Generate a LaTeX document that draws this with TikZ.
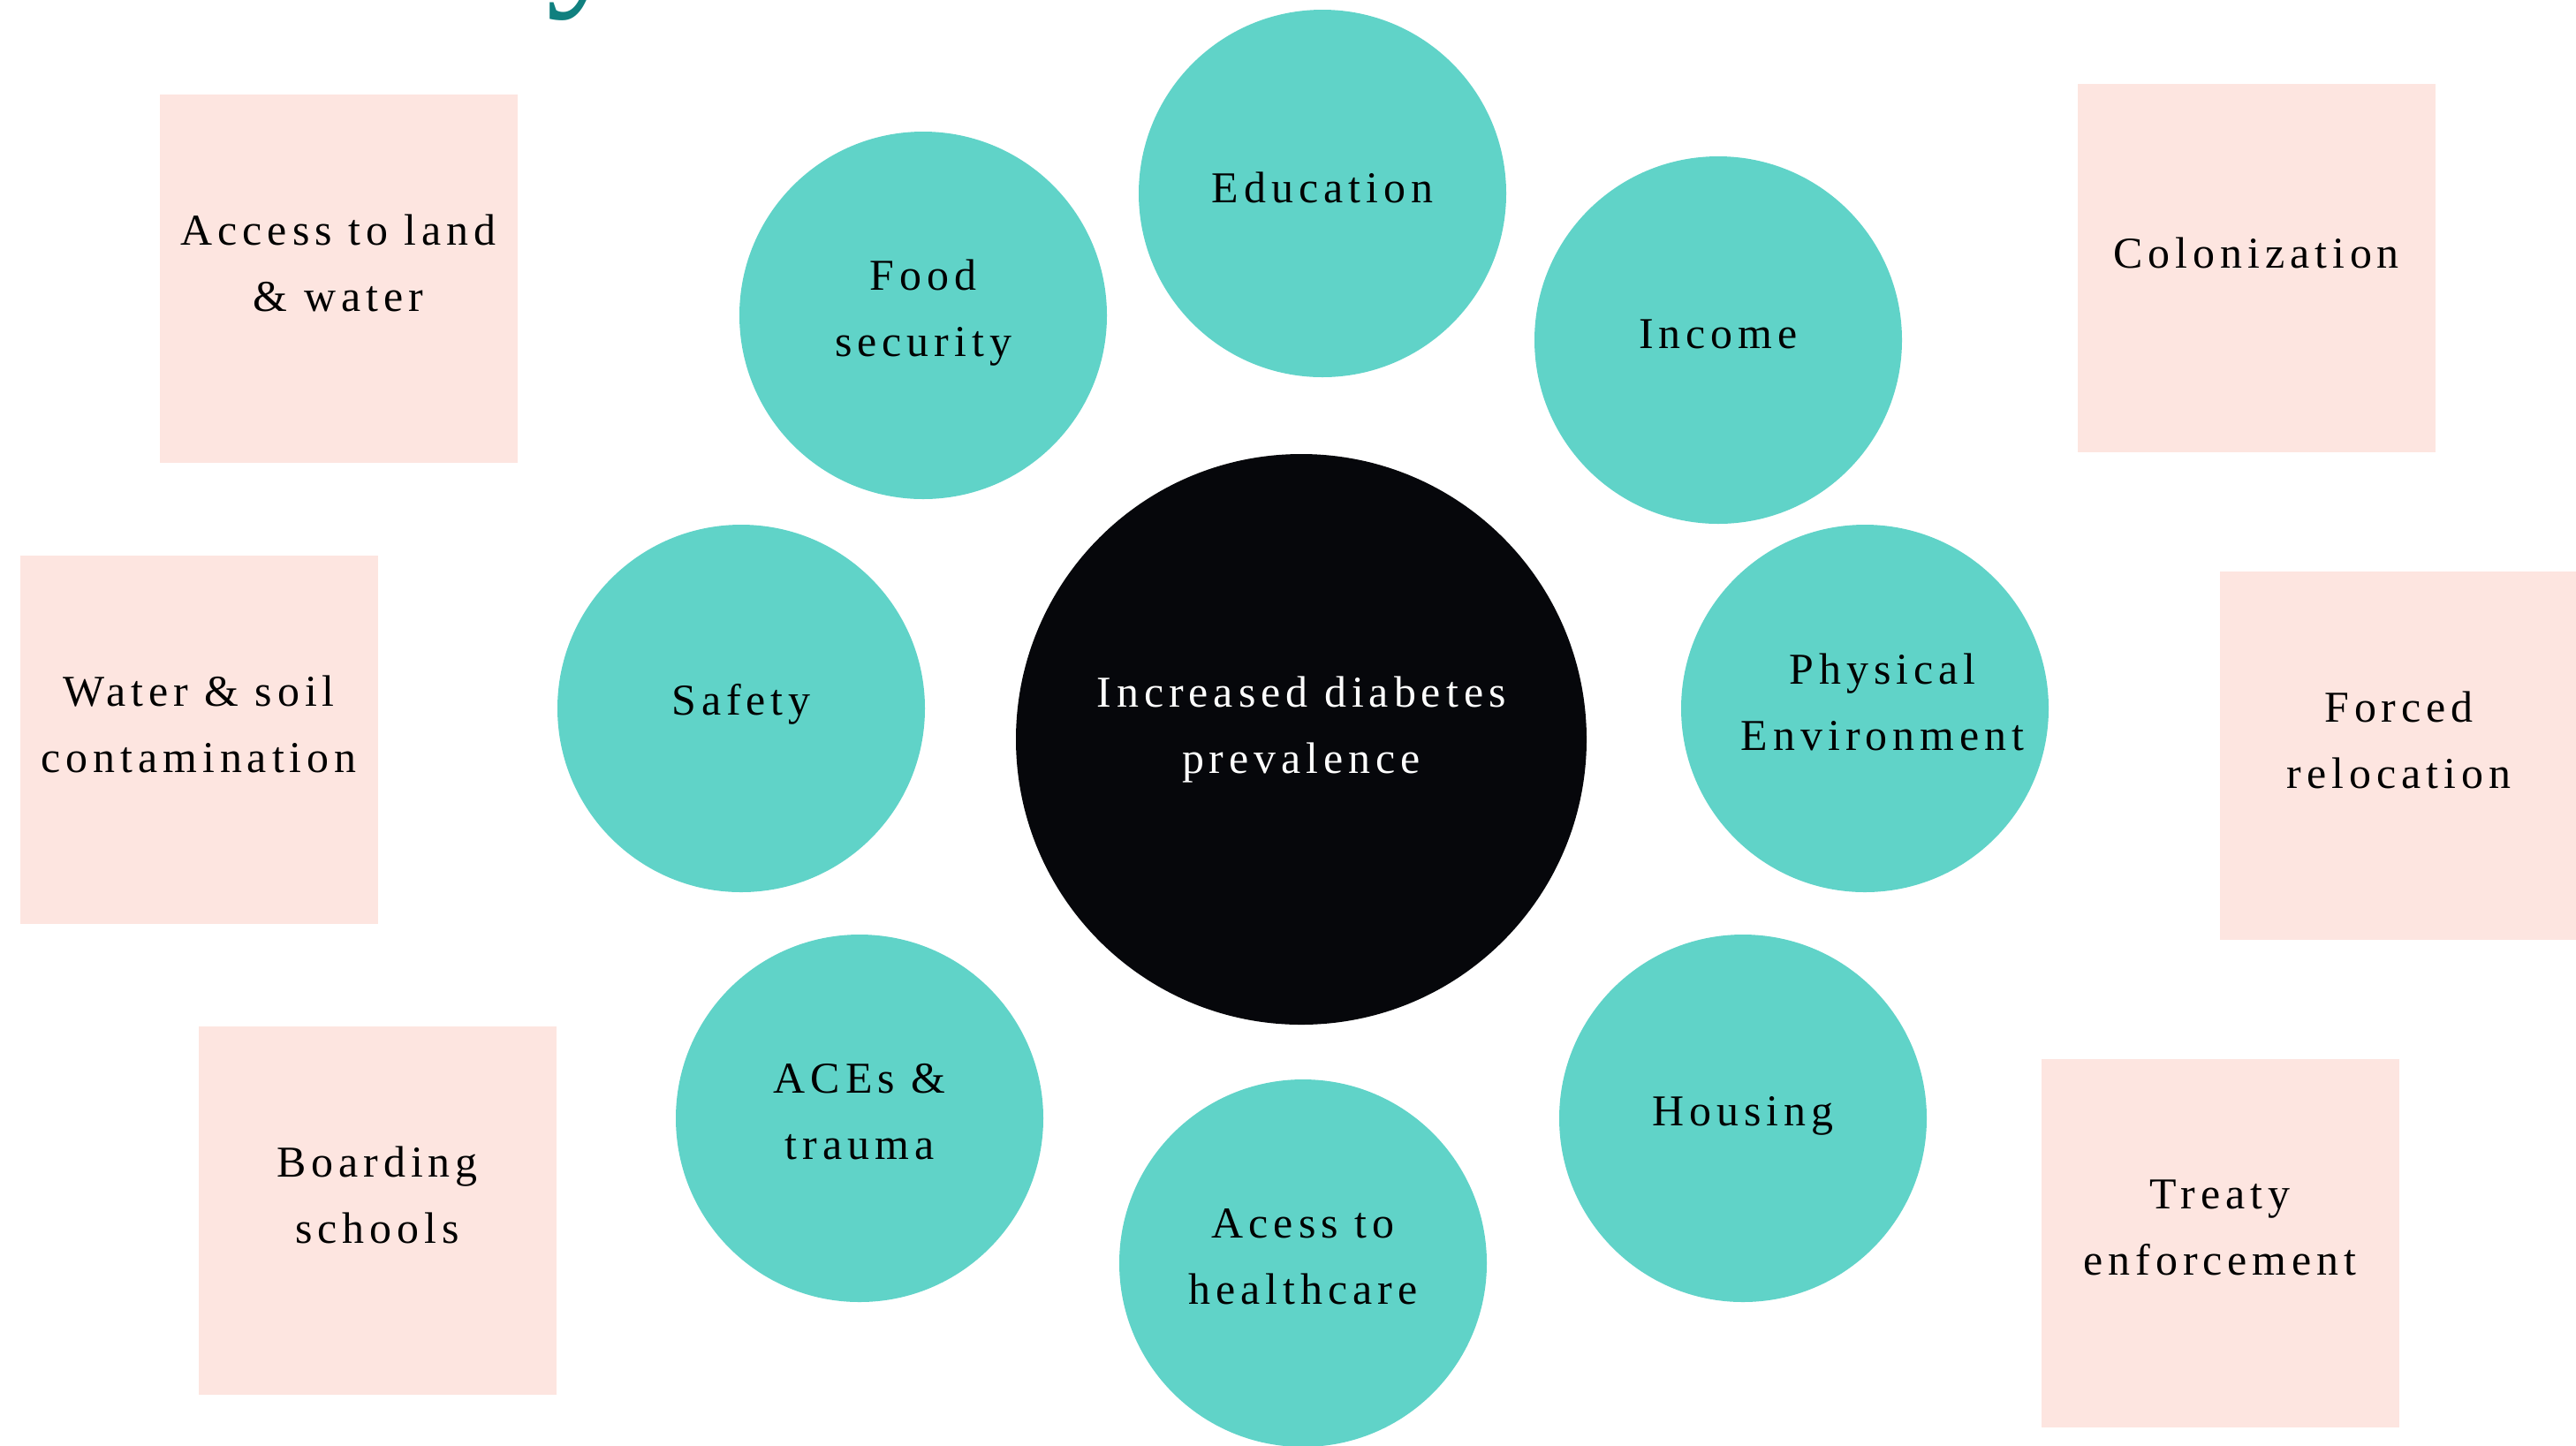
\documentclass[tikz,border=0pt]{standalone}
\usepackage{fontspec}
\setmainfont{Liberation Serif}[LetterSpace=12]
\usetikzlibrary{positioning}

\definecolor{factorteal}{HTML}{60D3C8}
\definecolor{rootpink}{HTML}{FDE5E0}
\definecolor{coreblack}{HTML}{06070B}
\definecolor{titleteal}{HTML}{10807F}

\begin{document}
\begin{tikzpicture}[
  font=\fontsize{14.2}{21.3}\selectfont,
  factor/.style={circle, fill=factorteal, minimum size=4.16cm, inner sep=0pt},
  core/.style={circle, fill=coreblack, minimum size=6.46cm, inner sep=0pt},
  root/.style={fill=rootpink, minimum width=4.05cm, minimum height=4.17cm, inner sep=0pt},
  caption/.style={align=center, inner sep=0pt}
]
\useasboundingbox (0,0) rectangle (29.16,-16.36);

% heading, mostly above the page
\node[text=titleteal, font=\fontsize{54}{60}\selectfont, anchor=base] (heading) at (6.66,0.18) {y};

% root causes
\node[root] (land) at (3.83,-3.15) {};
\node[root] (soil) at (2.25,-8.37) {};
\node[root] (boarding) at (4.27,-13.70) {};
\node[root] (colon) at (25.54,-3.03) {};
\node[root] (forced) at (27.155,-8.55) {};
\node[root] (treaty) at (25.13,-14.07) {};

\node[caption] (land-t) at ([yshift=1.7mm]land) {Access to land\\\& water};
\node[caption] (soil-t) at ([yshift=1.7mm]soil) {Water \& soil\\contamination};
\node[caption] (boarding-t) at ([yshift=1.7mm]boarding) {Boarding\\schools};
\node[caption] (colon-t) at ([yshift=1.7mm]colon) {Colonization};
\node[caption] (forced-t) at ([yshift=1.7mm]forced) {Forced\\relocation};
\node[caption] (treaty-t) at ([yshift=1.7mm]treaty) {Treaty\\enforcement};

% social determinants
\node[factor] (edu) at (14.97,-2.19) {};
\node[factor] (income) at (19.45,-3.85) {};
\node[factor] (physenv) at (21.11,-8.02) {};
\node[factor] (housing) at (19.73,-12.66) {};
\node[factor] (health) at (14.75,-14.30) {};
\node[factor] (aces) at (9.73,-12.66) {};
\node[factor] (safety) at (8.39,-8.02) {};
\node[factor] (food) at (10.45,-3.57) {};

\node[caption] (edu-t) at ([yshift=0.7mm]edu) {Education};
\node[caption] (income-t) at ([yshift=0.7mm]income) {Income};
\node[caption] (physenv-t) at ([xshift=2mm,yshift=0.7mm]physenv) {Physical\\Environment};
\node[caption] (housing-t) at ([yshift=0.3mm]housing) {Housing};
\node[caption] (health-t) at ([yshift=0.7mm]health) {Acess to\\healthcare};
\node[caption] (aces-t) at ([yshift=0.7mm]aces) {ACEs \&\\trauma};
\node[caption] (safety-t) at ([yshift=0.5mm]safety) {Safety};
\node[caption] (food-t) at ([yshift=0.3mm]food) {Food\\security};

% outcome
\node[core] (diabetes) at (14.73,-8.37) {};
\node[caption, text=white] (diabetes-t) at ([yshift=1.1mm]diabetes) {Increased diabetes\\prevalence};
\end{tikzpicture}
\end{document}
